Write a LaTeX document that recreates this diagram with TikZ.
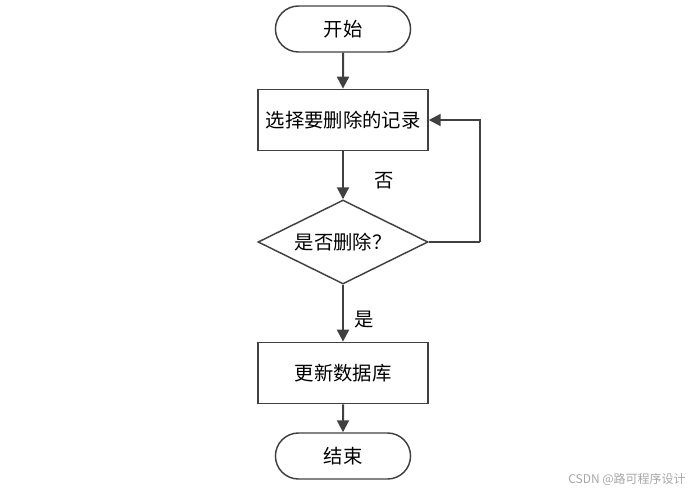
\documentclass[tikz,border=0pt]{standalone}
\usepackage{fontspec}
\newfontfamily\cjk{Noto Sans CJK SC}
\usetikzlibrary{shapes.geometric,shapes.misc,arrows.meta}
\definecolor{liniengrau}{HTML}{404040}
\tikzset{
	start/.style={draw=liniengrau, line width=1.1pt, rounded rectangle, minimum width=108pt, minimum height=34.5pt, font=\cjk\fontsize{14.5}{16}\selectfont},
	kasten/.style={draw=liniengrau, line width=1.1pt, rectangle, minimum width=127.5pt, minimum height=46pt, font=\cjk\fontsize{14.5}{16}\selectfont},
	raute/.style={draw=liniengrau, line width=1.1pt, diamond, aspect=2, inner sep=0pt, minimum width=127.5pt, minimum height=63pt, font=\cjk\fontsize{14.5}{16}\selectfont},
	pfeil/.style={draw=liniengrau, line width=1.5pt, -{Triangle[length=9pt,width=9pt]}},
	linie/.style={draw=liniengrau, line width=1.5pt},
	marke/.style={font=\cjk\fontsize{14.5}{16}\selectfont}
}
\begin{document}
\begin{tikzpicture}[x=0.75pt, y=-0.75pt]
	\useasboundingbox (0,0) rectangle (697,494);
	% Knoten
	\node[start] (anfang) at (343,29) {开始};
	\node[kasten] (waehlen) at (343,120) {选择要删除的记录};
	\node[raute] (frage) at (343,242) {是否删除？};
	\node[kasten] (update) at (343,373) {更新数据库};
	\node[start] (ende) at (343,456) {结束};
	% Beschriftungen
	\node[marke] (nein) at (384,181) {否};
	\node[marke] (ja) at (364,320) {是};
	% Pfeile
	\draw[pfeil] (anfang) -- (waehlen);
	\draw[pfeil] (waehlen) -- (frage);
	\draw[pfeil] (frage) -- (update);
	\draw[pfeil] (update) -- (ende);
	\coordinate (rueck) at (480,242);
	\draw[linie] (frage.east) -- (rueck);
	\draw[pfeil] (rueck) |- (waehlen.east);
	% Wasserzeichen
	\node[font=\cjk\fontsize{9}{10}\selectfont, text=gray!70] (marke) at (627,479) {CSDN @路可程序设计};
\end{tikzpicture}
\end{document}
